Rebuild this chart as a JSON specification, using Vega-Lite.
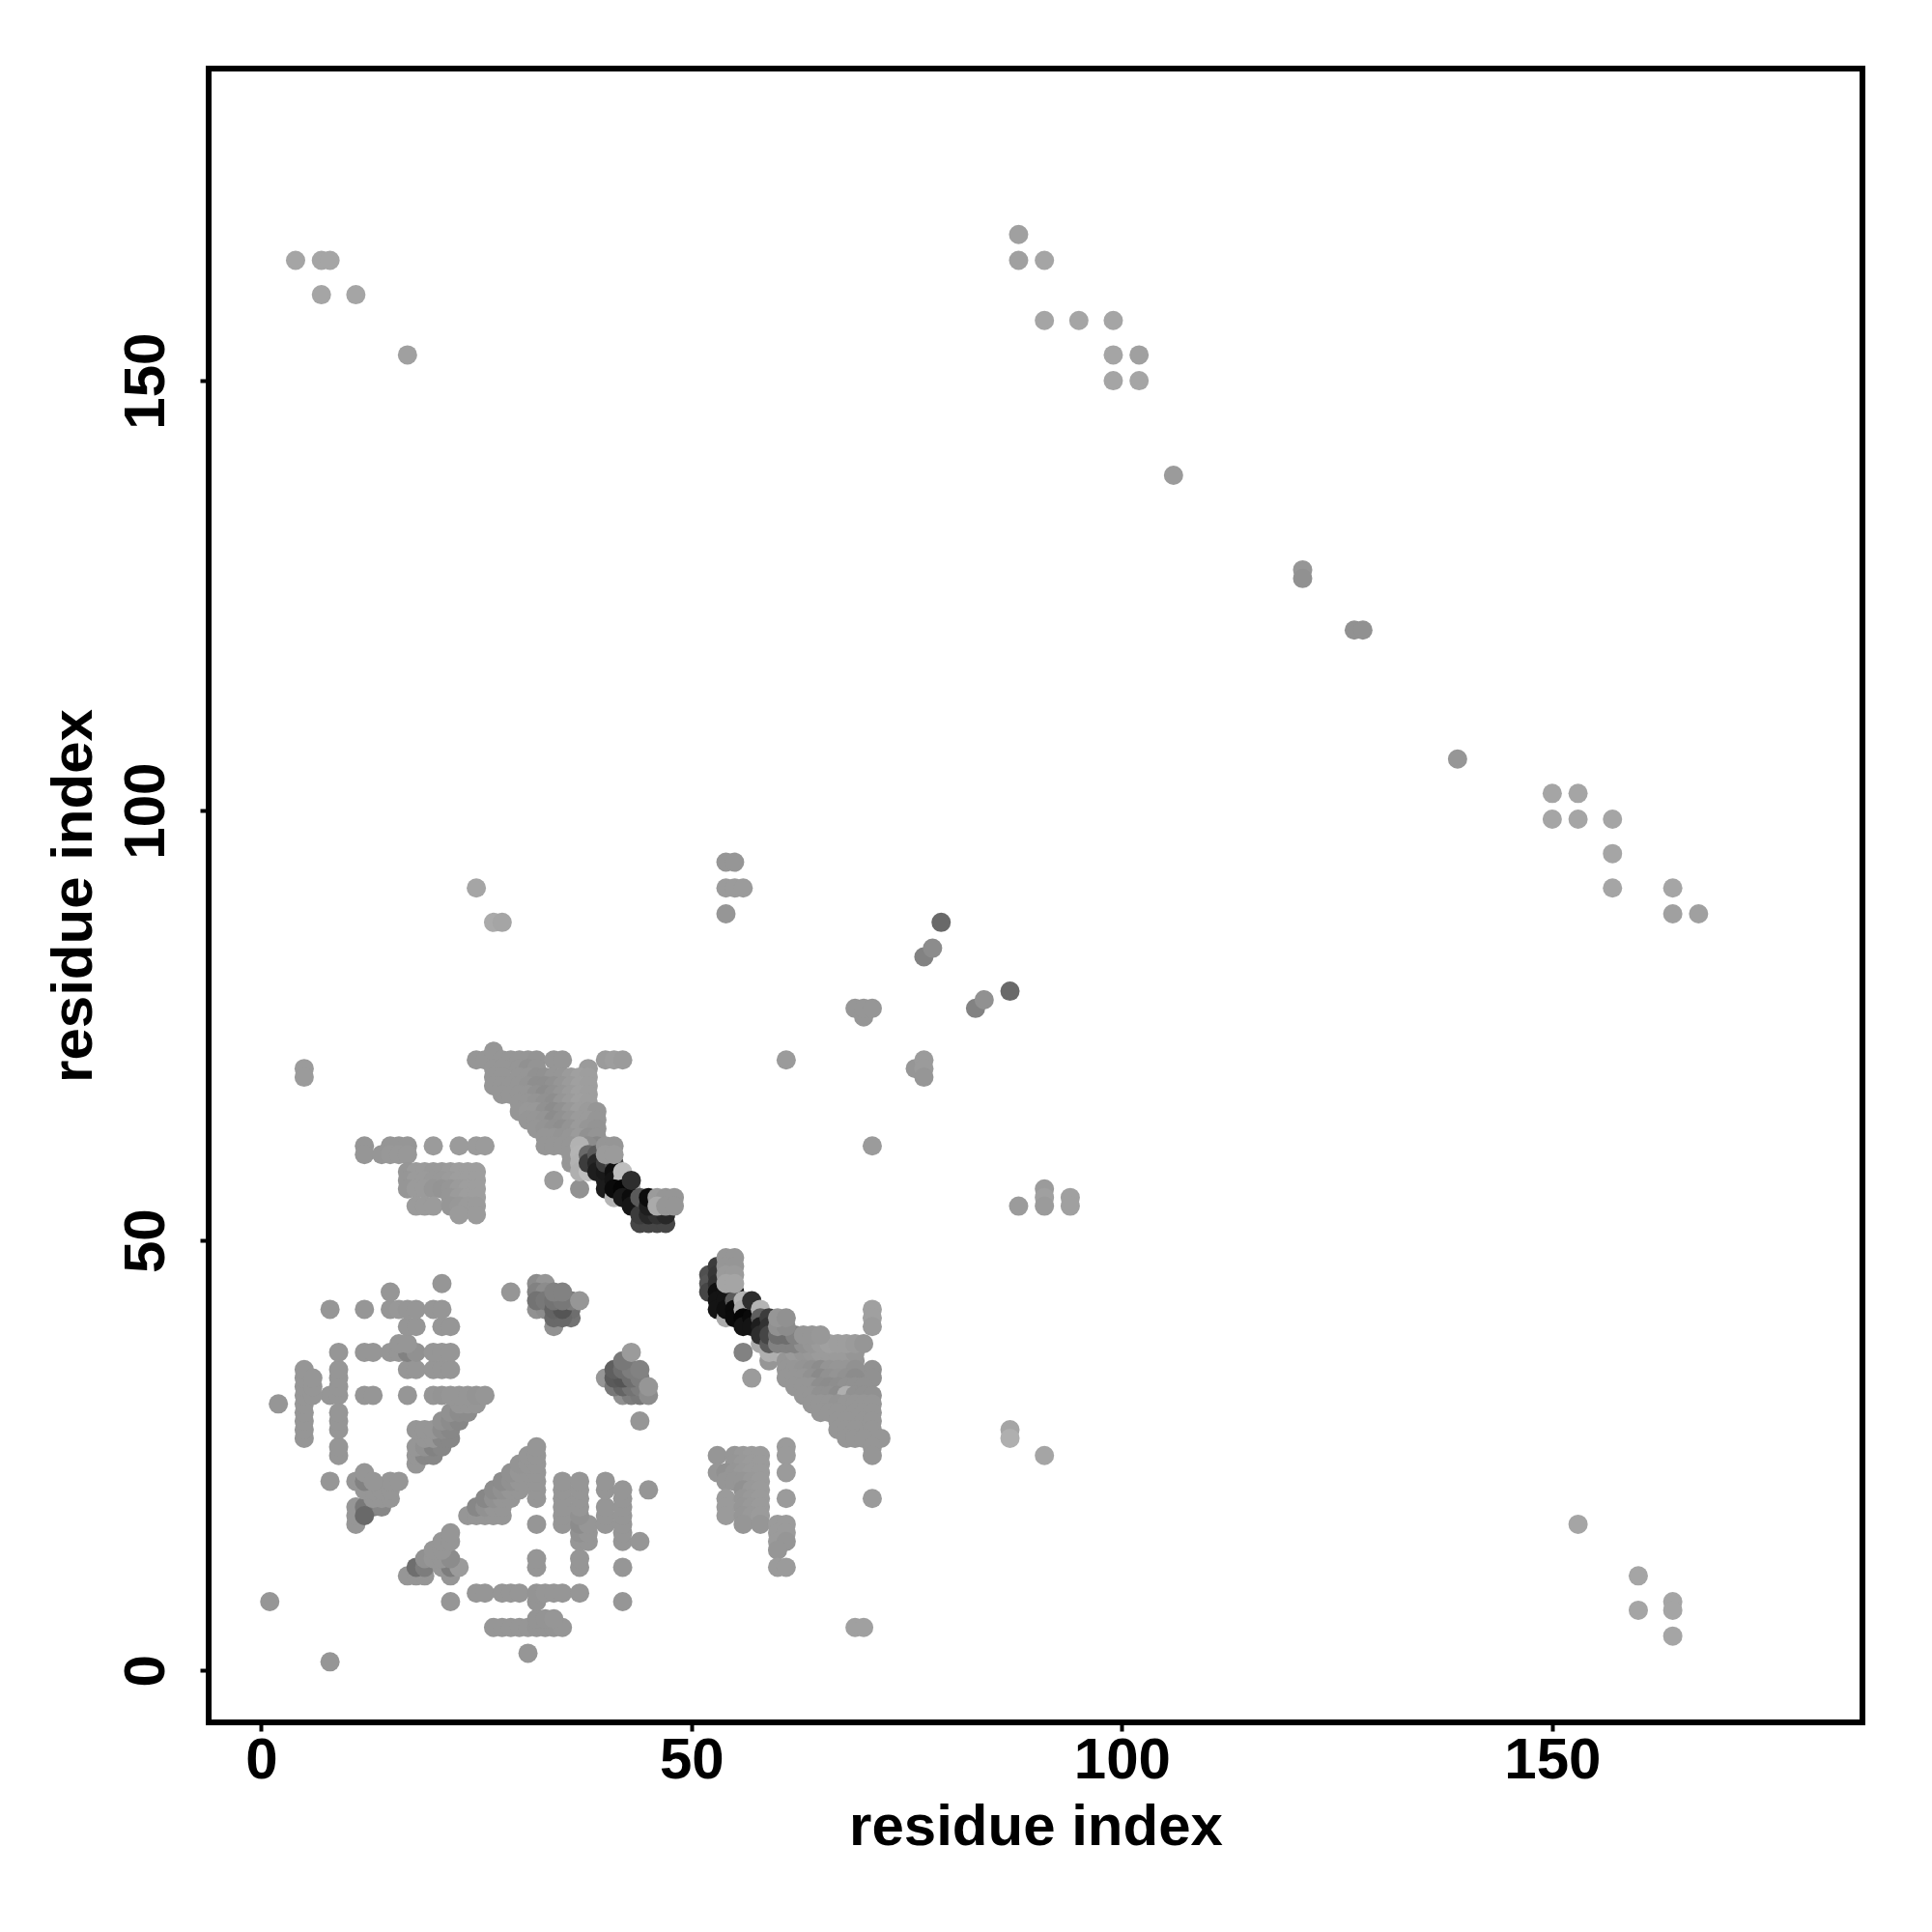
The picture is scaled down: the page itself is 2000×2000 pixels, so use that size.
{"$schema":"https://vega.github.io/schema/vega-lite/v6.json","autosize":{"type":"none"},"padding":{"left":216,"top":71,"right":72,"bottom":216},"width":1712,"height":1712,"background":"white","config":{"view":{"stroke":"#000","strokeWidth":6,"fill":"white"}},"data":{"values":[
{"x":4,"y":164,"g":165},{"x":7,"y":164,"g":165},{"x":8,"y":164,"g":165},{"x":7,"y":160,"g":165},{"x":11,"y":160,"g":165},{"x":17,"y":153,"g":160},{"x":88,"y":167,"g":160},{"x":88,"y":164,"g":160},{"x":91,"y":164,"g":165},{"x":91,"y":157,"g":165},{"x":95,"y":157,"g":165},{"x":99,"y":157,"g":165},{"x":99,"y":153,"g":165},{"x":102,"y":153,"g":160},{"x":99,"y":150,"g":165},{"x":102,"y":150,"g":165},{"x":106,"y":139,"g":155},{"x":121,"y":128,"g":150},{"x":121,"y":127,"g":145},{"x":127,"y":121,"g":145},{"x":128,"y":121,"g":145},{"x":139,"y":106,"g":150},{"x":150,"y":102,"g":165},{"x":153,"y":102,"g":165},{"x":150,"y":99,"g":165},{"x":153,"y":99,"g":165},{"x":157,"y":99,"g":165},{"x":157,"y":95,"g":165},{"x":157,"y":91,"g":165},{"x":164,"y":91,"g":165},{"x":164,"y":88,"g":160},{"x":167,"y":88,"g":160},{"x":25,"y":91,"g":165},{"x":27,"y":87,"g":170},{"x":28,"y":87,"g":165},{"x":54,"y":94,"g":150},{"x":55,"y":94,"g":150},{"x":54,"y":91,"g":155},{"x":55,"y":91,"g":155},{"x":56,"y":91,"g":155},{"x":54,"y":88,"g":150},{"x":79,"y":87,"g":105},{"x":77,"y":83,"g":130},{"x":78,"y":84,"g":140},{"x":83,"y":77,"g":130},{"x":84,"y":78,"g":145},{"x":87,"y":79,"g":105},{"x":69,"y":77,"g":150},{"x":70,"y":76,"g":150},{"x":70,"y":77,"g":150},{"x":71,"y":77,"g":150},{"x":61,"y":71,"g":155},{"x":76,"y":70,"g":150},{"x":77,"y":71,"g":155},{"x":77,"y":70,"g":155},{"x":77,"y":69,"g":150},{"x":5,"y":70,"g":155},{"x":5,"y":69,"g":155},{"x":71,"y":61,"g":155},{"x":88,"y":54,"g":155},{"x":91,"y":56,"g":155},{"x":91,"y":55,"g":160},{"x":91,"y":54,"g":155},{"x":94,"y":55,"g":160},{"x":94,"y":54,"g":160},{"x":87,"y":28,"g":165},{"x":87,"y":27,"g":175},{"x":91,"y":25,"g":165},{"x":153,"y":17,"g":165},{"x":160,"y":11,"g":165},{"x":160,"y":7,"g":165},{"x":164,"y":8,"g":165},{"x":164,"y":7,"g":165},{"x":164,"y":4,"g":165},{"x":69,"y":5,"g":160},{"x":70,"y":5,"g":160},{"x":1,"y":8,"g":150},{"x":8,"y":1,"g":150},{"x":31,"y":2,"g":150},
{"x":27,"y":5,"g":150},{"x":28,"y":5,"g":150},{"x":29,"y":5,"g":150},{"x":30,"y":5,"g":150},{"x":31,"y":5,"g":150},{"x":32,"y":5,"g":148},{"x":33,"y":5,"g":148},{"x":34,"y":5,"g":148},{"x":35,"y":5,"g":150},{"x":32,"y":6,"g":148},{"x":33,"y":6,"g":148},{"x":34,"y":6,"g":150},{"x":22,"y":8,"g":150},{"x":32,"y":8,"g":148},{"x":42,"y":8,"g":150},{"x":25,"y":9,"g":150},{"x":26,"y":9,"g":150},{"x":28,"y":9,"g":150},{"x":29,"y":9,"g":150},{"x":30,"y":9,"g":150},{"x":32,"y":9,"g":148},{"x":33,"y":9,"g":150},{"x":34,"y":9,"g":150},{"x":35,"y":9,"g":150},{"x":37,"y":9,"g":150},
{"x":17,"y":11,"g":150},{"x":18,"y":11,"g":150},{"x":19,"y":11,"g":150},{"x":22,"y":11,"g":150},{"x":18,"y":12,"g":110},{"x":19,"y":12,"g":125},{"x":21,"y":12,"g":150},{"x":22,"y":12,"g":125},{"x":23,"y":12,"g":155},{"x":32,"y":12,"g":150},{"x":37,"y":12,"g":150},{"x":42,"y":12,"g":150},{"x":19,"y":13,"g":145},{"x":20,"y":13,"g":150},{"x":21,"y":13,"g":150},{"x":22,"y":13,"g":140},{"x":32,"y":13,"g":150},{"x":37,"y":13,"g":150},{"x":20,"y":14,"g":150},{"x":21,"y":14,"g":150},{"x":21,"y":15,"g":150},{"x":22,"y":15,"g":150},{"x":37,"y":15,"g":150},{"x":38,"y":15,"g":150},{"x":42,"y":15,"g":150},{"x":44,"y":15,"g":150},{"x":22,"y":16,"g":150},{"x":37,"y":16,"g":145},{"x":38,"y":16,"g":150},{"x":42,"y":16,"g":150},{"x":32,"y":17,"g":150},{"x":35,"y":17,"g":150},{"x":37,"y":17,"g":140},{"x":38,"y":17,"g":150},{"x":40,"y":17,"g":150},{"x":42,"y":17,"g":150},
{"x":24,"y":18,"g":150},{"x":25,"y":18,"g":150},{"x":26,"y":18,"g":150},{"x":27,"y":18,"g":150},{"x":28,"y":18,"g":150},{"x":35,"y":18,"g":150},{"x":37,"y":18,"g":145},{"x":40,"y":18,"g":150},{"x":42,"y":18,"g":150},{"x":25,"y":19,"g":135},{"x":26,"y":19,"g":145},{"x":27,"y":19,"g":150},{"x":28,"y":19,"g":150},{"x":35,"y":19,"g":150},{"x":37,"y":19,"g":150},{"x":40,"y":19,"g":150},{"x":42,"y":19,"g":150},{"x":26,"y":20,"g":135},{"x":27,"y":20,"g":145},{"x":28,"y":20,"g":150},{"x":29,"y":20,"g":150},{"x":32,"y":20,"g":150},{"x":35,"y":20,"g":150},{"x":37,"y":20,"g":150},{"x":42,"y":20,"g":150},{"x":27,"y":21,"g":140},{"x":28,"y":21,"g":145},{"x":29,"y":21,"g":150},{"x":30,"y":21,"g":150},{"x":32,"y":21,"g":150},{"x":35,"y":21,"g":150},{"x":37,"y":21,"g":150},{"x":40,"y":21,"g":150},{"x":42,"y":21,"g":150},{"x":45,"y":21,"g":150},{"x":28,"y":22,"g":140},{"x":29,"y":22,"g":145},{"x":30,"y":22,"g":150},{"x":31,"y":22,"g":150},{"x":32,"y":22,"g":150},{"x":35,"y":22,"g":150},{"x":37,"y":22,"g":150},{"x":40,"y":22,"g":150},{"x":29,"y":23,"g":145},{"x":30,"y":23,"g":150},{"x":31,"y":23,"g":150},{"x":32,"y":23,"g":150},{"x":30,"y":24,"g":148},{"x":31,"y":24,"g":150},{"x":32,"y":24,"g":150},{"x":31,"y":25,"g":150},{"x":32,"y":25,"g":150},{"x":32,"y":26,"g":150},
{"x":11,"y":17,"g":150},{"x":11,"y":18,"g":150},{"x":11,"y":19,"g":150},{"x":13,"y":19,"g":125},{"x":12,"y":19,"g":120},{"x":12,"y":18,"g":105},{"x":14,"y":19,"g":135},{"x":13,"y":20,"g":150},{"x":14,"y":20,"g":150},{"x":15,"y":20,"g":150},{"x":12,"y":21,"g":150},{"x":13,"y":21,"g":150},{"x":14,"y":21,"g":150},{"x":15,"y":21,"g":150},{"x":8,"y":22,"g":150},{"x":11,"y":22,"g":150},{"x":12,"y":22,"g":130},{"x":15,"y":22,"g":150},{"x":16,"y":22,"g":150},{"x":12,"y":23,"g":150},{"x":13,"y":22,"g":150},
{"x":18,"y":24,"g":150},{"x":18,"y":25,"g":150},{"x":19,"y":25,"g":135},{"x":20,"y":25,"g":135},{"x":18,"y":26,"g":150},{"x":19,"y":26,"g":145},{"x":20,"y":26,"g":130},{"x":21,"y":26,"g":135},{"x":19,"y":27,"g":150},{"x":20,"y":27,"g":150},{"x":21,"y":27,"g":135},{"x":22,"y":27,"g":135},{"x":18,"y":28,"g":150},{"x":19,"y":28,"g":150},{"x":20,"y":28,"g":150},{"x":21,"y":28,"g":140},{"x":22,"y":28,"g":135},{"x":21,"y":29,"g":145},{"x":22,"y":29,"g":140},{"x":23,"y":29,"g":135},{"x":22,"y":30,"g":145},{"x":23,"y":30,"g":140},{"x":24,"y":30,"g":140},{"x":23,"y":31,"g":150},{"x":24,"y":31,"g":150},{"x":25,"y":31,"g":150},
{"x":8,"y":32,"g":150},{"x":9,"y":32,"g":150},{"x":12,"y":32,"g":150},{"x":13,"y":32,"g":150},{"x":17,"y":32,"g":150},{"x":20,"y":32,"g":150},{"x":21,"y":32,"g":148},{"x":22,"y":32,"g":150},{"x":23,"y":32,"g":150},{"x":24,"y":32,"g":150},{"x":25,"y":32,"g":148},{"x":26,"y":32,"g":150},{"x":2,"y":31,"g":150},
{"x":5,"y":27,"g":150},{"x":5,"y":28,"g":150},{"x":5,"y":29,"g":150},{"x":5,"y":30,"g":150},{"x":5,"y":31,"g":150},{"x":5,"y":32,"g":150},{"x":5,"y":33,"g":150},{"x":5,"y":34,"g":150},{"x":5,"y":35,"g":150},{"x":6,"y":32,"g":150},{"x":6,"y":33,"g":150},{"x":6,"y":34,"g":150},{"x":9,"y":25,"g":150},{"x":9,"y":26,"g":150},{"x":9,"y":28,"g":150},{"x":9,"y":29,"g":150},{"x":9,"y":30,"g":150},{"x":9,"y":33,"g":150},{"x":9,"y":34,"g":150},{"x":9,"y":35,"g":150},{"x":9,"y":37,"g":150},
{"x":17,"y":35,"g":150},{"x":18,"y":35,"g":150},{"x":20,"y":35,"g":150},{"x":21,"y":35,"g":150},{"x":22,"y":35,"g":150},{"x":12,"y":37,"g":150},{"x":13,"y":37,"g":150},{"x":15,"y":37,"g":150},{"x":16,"y":37,"g":150},{"x":17,"y":37,"g":130},{"x":18,"y":37,"g":145},{"x":20,"y":37,"g":150},{"x":21,"y":37,"g":150},{"x":22,"y":37,"g":150},{"x":16,"y":38,"g":150},{"x":17,"y":38,"g":150},{"x":17,"y":40,"g":150},{"x":18,"y":40,"g":150},{"x":21,"y":40,"g":150},{"x":22,"y":40,"g":150},{"x":8,"y":42,"g":150},{"x":12,"y":42,"g":150},{"x":15,"y":42,"g":150},{"x":16,"y":42,"g":152},{"x":17,"y":42,"g":150},{"x":18,"y":42,"g":150},{"x":20,"y":42,"g":150},{"x":21,"y":42,"g":150},{"x":15,"y":44,"g":150},{"x":21,"y":45,"g":150},{"x":29,"y":44,"g":150},
{"x":34,"y":40,"g":145},{"x":32,"y":45,"g":140},{"x":33,"y":45,"g":150},{"x":32,"y":44,"g":130},{"x":33,"y":44,"g":140},{"x":32,"y":42,"g":145},{"x":33,"y":42,"g":140},{"x":32,"y":43,"g":115},{"x":33,"y":43,"g":120},{"x":36,"y":41,"g":115},{"x":36,"y":42,"g":110},{"x":34,"y":41,"g":105},{"x":35,"y":41,"g":105},{"x":34,"y":42,"g":100},{"x":35,"y":42,"g":85},{"x":36,"y":43,"g":125},{"x":34,"y":43,"g":115},{"x":35,"y":43,"g":120},{"x":34,"y":44,"g":130},{"x":35,"y":44,"g":130},{"x":37,"y":43,"g":150},
{"x":40,"y":34,"g":150},{"x":42,"y":32,"g":145},{"x":43,"y":32,"g":125},{"x":44,"y":32,"g":120},{"x":41,"y":33,"g":120},{"x":42,"y":33,"g":100},{"x":43,"y":33,"g":115},{"x":44,"y":33,"g":125},{"x":45,"y":32,"g":140},{"x":41,"y":34,"g":90},{"x":42,"y":34,"g":85},{"x":43,"y":34,"g":110},{"x":44,"y":34,"g":125},{"x":41,"y":35,"g":95},{"x":42,"y":35,"g":110},{"x":43,"y":35,"g":125},{"x":44,"y":35,"g":130},{"x":42,"y":36,"g":120},{"x":45,"y":33,"g":150},{"x":43,"y":37,"g":155},{"x":44,"y":29,"g":150},
{"x":53,"y":25,"g":150},{"x":55,"y":25,"g":150},{"x":56,"y":25,"g":153},{"x":57,"y":25,"g":155},{"x":58,"y":25,"g":155},{"x":61,"y":26,"g":155},{"x":61,"y":25,"g":155},{"x":55,"y":24,"g":150},{"x":56,"y":24,"g":153},{"x":57,"y":24,"g":155},{"x":58,"y":24,"g":155},{"x":53,"y":23,"g":150},{"x":54,"y":23,"g":145},{"x":55,"y":23,"g":150},{"x":56,"y":23,"g":153},{"x":57,"y":23,"g":155},{"x":58,"y":23,"g":155},{"x":61,"y":23,"g":155},{"x":54,"y":22,"g":150},{"x":55,"y":22,"g":150},{"x":56,"y":22,"g":150},{"x":57,"y":22,"g":153},{"x":58,"y":22,"g":155},{"x":56,"y":21,"g":145},{"x":57,"y":21,"g":153},{"x":58,"y":21,"g":155},{"x":54,"y":20,"g":155},{"x":56,"y":20,"g":150},{"x":57,"y":20,"g":153},{"x":58,"y":20,"g":155},{"x":61,"y":20,"g":155},{"x":54,"y":19,"g":155},{"x":56,"y":19,"g":150},{"x":57,"y":19,"g":153},{"x":58,"y":19,"g":155},{"x":54,"y":18,"g":155},{"x":56,"y":18,"g":150},{"x":57,"y":18,"g":153},{"x":58,"y":18,"g":155},{"x":56,"y":17,"g":150},{"x":58,"y":17,"g":150},{"x":60,"y":17,"g":155},{"x":61,"y":17,"g":155},{"x":60,"y":16,"g":155},{"x":61,"y":16,"g":155},{"x":60,"y":15,"g":155},{"x":61,"y":15,"g":150},{"x":60,"y":14,"g":150},{"x":60,"y":12,"g":155},{"x":61,"y":12,"g":155},{"x":71,"y":20,"g":155},
{"x":12,"y":61,"g":150},{"x":15,"y":61,"g":150},{"x":16,"y":61,"g":150},{"x":17,"y":61,"g":150},{"x":20,"y":61,"g":155},{"x":23,"y":61,"g":155},{"x":25,"y":61,"g":155},{"x":26,"y":61,"g":155},{"x":12,"y":60,"g":150},{"x":14,"y":60,"g":150},{"x":15,"y":60,"g":152},{"x":16,"y":60,"g":152},{"x":17,"y":60,"g":152},
{"x":17,"y":58,"g":150},{"x":18,"y":58,"g":155},{"x":19,"y":58,"g":155},{"x":20,"y":58,"g":153},{"x":21,"y":58,"g":153},{"x":22,"y":58,"g":155},{"x":23,"y":58,"g":158},{"x":24,"y":58,"g":158},{"x":25,"y":58,"g":158},{"x":17,"y":57,"g":150},{"x":18,"y":57,"g":155},{"x":19,"y":57,"g":155},{"x":20,"y":57,"g":153},{"x":21,"y":57,"g":153},{"x":22,"y":57,"g":155},{"x":23,"y":57,"g":158},{"x":24,"y":57,"g":158},{"x":25,"y":57,"g":158},{"x":17,"y":56,"g":150},{"x":18,"y":56,"g":155},{"x":19,"y":56,"g":155},{"x":20,"y":56,"g":150},{"x":21,"y":56,"g":148},{"x":22,"y":56,"g":150},{"x":23,"y":56,"g":155},{"x":24,"y":56,"g":158},{"x":25,"y":56,"g":158},{"x":22,"y":55,"g":150},{"x":23,"y":55,"g":155},{"x":24,"y":55,"g":158},{"x":25,"y":55,"g":158},{"x":18,"y":54,"g":155},{"x":19,"y":54,"g":155},{"x":20,"y":54,"g":155},{"x":22,"y":54,"g":150},{"x":23,"y":54,"g":152},{"x":24,"y":54,"g":155},{"x":25,"y":54,"g":155},{"x":23,"y":53,"g":155},{"x":25,"y":53,"g":155},
{"x":25,"y":71,"g":150},{"x":26,"y":71,"g":150},{"x":27,"y":72,"g":150},{"x":28,"y":71,"g":150},{"x":29,"y":71,"g":150},{"x":30,"y":71,"g":150},{"x":31,"y":71,"g":150},{"x":32,"y":71,"g":148},{"x":34,"y":71,"g":150},{"x":35,"y":71,"g":150},{"x":40,"y":71,"g":155},{"x":41,"y":71,"g":158},{"x":42,"y":71,"g":155},
{"x":27,"y":70,"g":150},{"x":28,"y":70,"g":150},{"x":30,"y":70,"g":150},{"x":31,"y":70,"g":145},{"x":32,"y":70,"g":148},{"x":38,"y":70,"g":155},
{"x":27,"y":69,"g":150},{"x":28,"y":69,"g":150},{"x":30,"y":69,"g":150},{"x":31,"y":69,"g":150},{"x":32,"y":69,"g":145},{"x":33,"y":69,"g":145},{"x":34,"y":69,"g":150},{"x":35,"y":69,"g":150},{"x":36,"y":69,"g":155},{"x":37,"y":69,"g":160},{"x":38,"y":69,"g":158},
{"x":27,"y":68,"g":150},{"x":28,"y":68,"g":150},{"x":29,"y":68,"g":150},{"x":30,"y":68,"g":150},{"x":31,"y":68,"g":148},{"x":32,"y":68,"g":142},{"x":33,"y":68,"g":142},{"x":34,"y":68,"g":145},{"x":35,"y":68,"g":150},{"x":36,"y":68,"g":155},{"x":37,"y":68,"g":160},{"x":38,"y":68,"g":158},
{"x":28,"y":67,"g":150},{"x":29,"y":67,"g":150},{"x":30,"y":67,"g":150},{"x":31,"y":67,"g":150},{"x":32,"y":67,"g":145},{"x":33,"y":67,"g":140},{"x":34,"y":67,"g":145},{"x":35,"y":67,"g":150},{"x":36,"y":67,"g":155},{"x":37,"y":67,"g":160},{"x":38,"y":67,"g":158},
{"x":30,"y":66,"g":150},{"x":31,"y":66,"g":150},{"x":32,"y":66,"g":148},{"x":33,"y":66,"g":145},{"x":34,"y":66,"g":142},{"x":35,"y":66,"g":150},{"x":36,"y":66,"g":155},{"x":37,"y":66,"g":160},{"x":38,"y":66,"g":158},
{"x":30,"y":65,"g":150},{"x":31,"y":65,"g":152},{"x":32,"y":65,"g":152},{"x":33,"y":65,"g":145},{"x":34,"y":65,"g":140},{"x":35,"y":65,"g":145},{"x":36,"y":65,"g":152},{"x":37,"y":65,"g":158},{"x":38,"y":65,"g":155},{"x":39,"y":65,"g":150},
{"x":31,"y":64,"g":150},{"x":32,"y":64,"g":150},{"x":33,"y":64,"g":148},{"x":34,"y":64,"g":140},{"x":35,"y":64,"g":145},{"x":36,"y":64,"g":150},{"x":37,"y":64,"g":155},{"x":38,"y":64,"g":155},{"x":39,"y":64,"g":150},
{"x":32,"y":63,"g":150},{"x":33,"y":63,"g":148},{"x":34,"y":63,"g":145},{"x":35,"y":63,"g":142},{"x":36,"y":63,"g":148},{"x":37,"y":63,"g":155},{"x":38,"y":63,"g":150},{"x":39,"y":63,"g":148},
{"x":33,"y":62,"g":150},{"x":34,"y":62,"g":150},{"x":35,"y":62,"g":148},{"x":36,"y":62,"g":150},{"x":37,"y":62,"g":155},{"x":38,"y":62,"g":145},{"x":39,"y":62,"g":148},
{"x":33,"y":61,"g":150},{"x":34,"y":61,"g":150},{"x":35,"y":61,"g":150},{"x":36,"y":61,"g":150},{"x":39,"y":61,"g":135},{"x":38,"y":61,"g":140},
{"x":34,"y":57,"g":155},{"x":37,"y":56,"g":145},{"x":36,"y":59,"g":150},{"x":36,"y":60,"g":150},{"x":37,"y":61,"g":178},{"x":37,"y":60,"g":180},{"x":37,"y":59,"g":178},{"x":37,"y":58,"g":175},{"x":38,"y":58,"g":190},{"x":38,"y":60,"g":105},{"x":38,"y":59,"g":60},
{"x":39,"y":60,"g":90},{"x":39,"y":59,"g":40},{"x":39,"y":58,"g":30},{"x":40,"y":57,"g":30},{"x":40,"y":58,"g":25},{"x":40,"y":56,"g":28},{"x":40,"y":59,"g":60},{"x":41,"y":59,"g":80},{"x":41,"y":58,"g":15},{"x":41,"y":57,"g":20},
{"x":40,"y":61,"g":150},{"x":41,"y":61,"g":150},{"x":40,"y":60,"g":155},{"x":41,"y":60,"g":155},
{"x":41,"y":55,"g":180},{"x":42,"y":58,"g":190},{"x":42,"y":57,"g":190},{"x":43,"y":56,"g":175},{"x":41,"y":56,"g":10},{"x":42,"y":56,"g":5},{"x":42,"y":55,"g":25},{"x":43,"y":55,"g":12},{"x":43,"y":54,"g":22},{"x":44,"y":54,"g":22},{"x":44,"y":52,"g":70},{"x":45,"y":52,"g":70},{"x":46,"y":52,"g":70},{"x":47,"y":52,"g":70},{"x":44,"y":53,"g":60},{"x":45,"y":53,"g":40},{"x":46,"y":53,"g":50},{"x":47,"y":53,"g":40},{"x":44,"y":55,"g":90},{"x":45,"y":54,"g":30},{"x":45,"y":55,"g":12},{"x":43,"y":57,"g":45},
{"x":46,"y":55,"g":155},{"x":47,"y":55,"g":150},{"x":48,"y":55,"g":150},{"x":46,"y":54,"g":170},{"x":47,"y":54,"g":150},{"x":48,"y":54,"g":150},
{"x":56,"y":37,"g":130},{"x":57,"y":34,"g":155},
{"x":52,"y":46,"g":80},{"x":52,"y":45,"g":85},{"x":52,"y":44,"g":70},{"x":53,"y":47,"g":60},{"x":53,"y":46,"g":55},{"x":53,"y":45,"g":50},{"x":53,"y":44,"g":15},{"x":53,"y":43,"g":20},{"x":53,"y":42,"g":20},
{"x":54,"y":41,"g":170},{"x":54,"y":44,"g":20},{"x":54,"y":43,"g":20},{"x":54,"y":42,"g":15},{"x":55,"y":44,"g":25},{"x":55,"y":43,"g":90},{"x":55,"y":42,"g":10},{"x":55,"y":41,"g":10},
{"x":54,"y":48,"g":150},{"x":55,"y":48,"g":150},{"x":54,"y":47,"g":150},{"x":55,"y":47,"g":150},{"x":54,"y":46,"g":155},{"x":55,"y":46,"g":155},{"x":54,"y":45,"g":165},{"x":55,"y":45,"g":165},
{"x":56,"y":43,"g":180},{"x":56,"y":42,"g":170},{"x":57,"y":42,"g":160},{"x":56,"y":41,"g":5},{"x":56,"y":40,"g":20},{"x":57,"y":41,"g":10},{"x":57,"y":40,"g":20},{"x":57,"y":43,"g":45},{"x":58,"y":42,"g":180},{"x":58,"y":38,"g":170},{"x":58,"y":41,"g":95},{"x":58,"y":40,"g":30},{"x":58,"y":39,"g":45},
{"x":59,"y":36,"g":150},{"x":59,"y":37,"g":175},{"x":60,"y":37,"g":175},{"x":61,"y":37,"g":180},{"x":59,"y":38,"g":90},{"x":59,"y":41,"g":60},{"x":59,"y":40,"g":50},{"x":59,"y":39,"g":70},
{"x":61,"y":36,"g":150},{"x":62,"y":36,"g":150},{"x":63,"y":36,"g":148},{"x":64,"y":36,"g":145},{"x":65,"y":36,"g":148},{"x":66,"y":36,"g":150},{"x":67,"y":36,"g":150},{"x":68,"y":36,"g":150},{"x":69,"y":36,"g":148},
{"x":62,"y":37,"g":155},{"x":63,"y":37,"g":150},{"x":64,"y":37,"g":152},{"x":65,"y":37,"g":155},{"x":66,"y":37,"g":155},{"x":67,"y":37,"g":155},{"x":68,"y":37,"g":155},{"x":69,"y":37,"g":150},
{"x":60,"y":38,"g":130},{"x":61,"y":38,"g":130},{"x":62,"y":38,"g":130},{"x":63,"y":38,"g":145},{"x":64,"y":38,"g":150},{"x":65,"y":38,"g":155},{"x":66,"y":38,"g":160},{"x":67,"y":38,"g":158},{"x":68,"y":38,"g":158},{"x":69,"y":38,"g":155},{"x":70,"y":38,"g":150},
{"x":60,"y":39,"g":110},{"x":61,"y":39,"g":110},{"x":62,"y":39,"g":130},{"x":63,"y":39,"g":150},{"x":64,"y":39,"g":150},{"x":65,"y":39,"g":152},
{"x":60,"y":40,"g":145},{"x":61,"y":40,"g":140},{"x":60,"y":41,"g":150},{"x":61,"y":41,"g":145},
{"x":71,"y":42,"g":160},{"x":71,"y":41,"g":160},{"x":71,"y":40,"g":155},{"x":71,"y":35,"g":145},{"x":71,"y":34,"g":145},
{"x":61,"y":35,"g":150},{"x":62,"y":35,"g":150},{"x":63,"y":35,"g":148},{"x":64,"y":35,"g":145},{"x":65,"y":35,"g":140},{"x":66,"y":35,"g":148},{"x":67,"y":35,"g":150},{"x":68,"y":35,"g":150},{"x":69,"y":35,"g":145},
{"x":61,"y":34,"g":150},{"x":62,"y":34,"g":150},{"x":63,"y":34,"g":150},{"x":64,"y":34,"g":145},{"x":65,"y":34,"g":138},{"x":66,"y":34,"g":145},{"x":67,"y":34,"g":148},{"x":68,"y":34,"g":145},{"x":69,"y":34,"g":140},
{"x":62,"y":33,"g":150},{"x":63,"y":33,"g":150},{"x":64,"y":33,"g":150},{"x":65,"y":33,"g":142},{"x":66,"y":33,"g":140},{"x":67,"y":33,"g":142},{"x":68,"y":33,"g":145},{"x":69,"y":33,"g":145},{"x":70,"y":33,"g":145},
{"x":63,"y":32,"g":150},{"x":64,"y":32,"g":150},{"x":65,"y":32,"g":145},{"x":66,"y":32,"g":145},{"x":67,"y":32,"g":140},{"x":68,"y":32,"g":175},{"x":69,"y":32,"g":145},{"x":70,"y":32,"g":145},{"x":71,"y":32,"g":145},
{"x":64,"y":31,"g":150},{"x":65,"y":31,"g":150},{"x":66,"y":31,"g":150},{"x":67,"y":31,"g":148},{"x":68,"y":31,"g":150},{"x":69,"y":31,"g":150},{"x":70,"y":31,"g":150},{"x":71,"y":31,"g":150},
{"x":65,"y":30,"g":150},{"x":66,"y":30,"g":150},{"x":67,"y":30,"g":150},{"x":69,"y":30,"g":150},{"x":70,"y":30,"g":150},{"x":71,"y":30,"g":150},
{"x":67,"y":29,"g":150},{"x":68,"y":29,"g":150},{"x":70,"y":29,"g":150},{"x":71,"y":29,"g":150},
{"x":67,"y":28,"g":150},{"x":68,"y":28,"g":150},{"x":69,"y":28,"g":150},{"x":71,"y":28,"g":150},
{"x":68,"y":27,"g":150},{"x":69,"y":27,"g":150},{"x":70,"y":27,"g":150},{"x":72,"y":27,"g":150},{"x":71,"y":26,"g":150},{"x":71,"y":25,"g":150}
]},"mark":{"type":"circle","size":400,"opacity":1,"strokeWidth":0},"encoding":{
"x":{"field":"x","type":"quantitative","scale":{"domain":[-6.1,186.04],"nice":false,"zero":false},"axis":{"values":[0,50,100,150],"grid":false,"domain":false,"tickSize":9,"tickWidth":4,"tickColor":"#000","labelFont":"Liberation Sans","labelFontWeight":"bold","labelFontSize":60,"labelColor":"#000","labelPadding":1,"title":"residue index","titleFont":"Liberation Sans","titleFontWeight":"bold","titleFontSize":60,"titleColor":"#000","titlePadding":10}},
"y":{"field":"y","type":"quantitative","scale":{"domain":[-6.04,186.3],"nice":false,"zero":false},"axis":{"values":[0,50,100,150],"grid":false,"domain":false,"tickSize":9,"tickWidth":4,"tickColor":"#000","labelFont":"Liberation Sans","labelFontWeight":"bold","labelFontSize":60,"labelColor":"#000","labelAngle":-90,"labelPadding":25,"title":"residue index","titleFont":"Liberation Sans","titleFontWeight":"bold","titleFontSize":60,"titleColor":"#000","titlePadding":14}},
"color":{"field":"g","type":"quantitative","scale":{"domain":[0,255],"range":["#000000","#ffffff"],"interpolate":"rgb"},"legend":null}}}
